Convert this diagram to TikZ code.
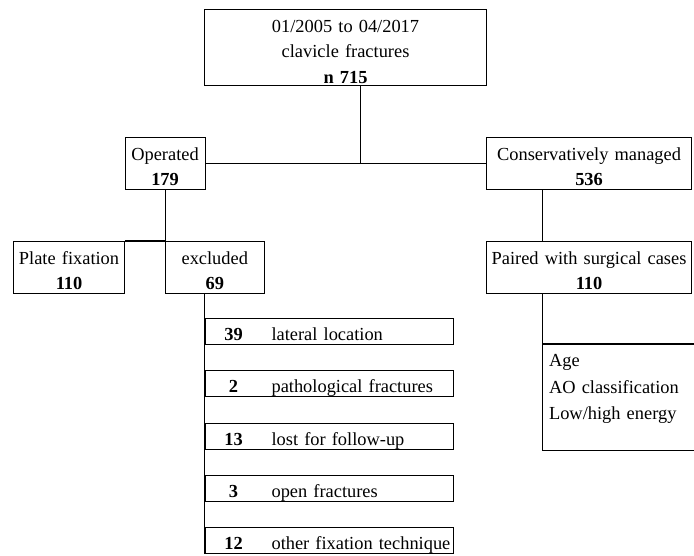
\documentclass[tikz,border=0pt]{standalone}
\usepackage{fontspec}
\setmainfont{Liberation Serif}
\newcommand{\topstrut}{\rule{0pt}{22.5pt}}
\newcommand{\botstrut}{\rule[-4pt]{0pt}{4pt}}
\begin{document}
\begin{tikzpicture}[x=1pt,y=-1pt,
  lw/.style={line width=1.1pt},
  box/.style={draw, lw, rectangle, inner sep=0pt, align=center, anchor=north west,
    font=\fontsize{18.4pt}{25.5pt}\selectfont},
  lbox/.style={box, align=left, text width=248.5pt}]
\useasboundingbox (0,0) rectangle (694,556);
\fill[white] (0,0) rectangle (694,556);

\node[box, text width=282pt] (top) at (204,9)
  {\topstrut 01/2005 to 04/2017\\clavicle fractures\\\textbf{n 715}\rule[-2.5pt]{0pt}{2.5pt}};
\node[box, text width=80pt] (op) at (124.5,137) {\topstrut Operated\\\textbf{179}\botstrut};
\node[box, text width=205pt] (cm) at (486,137) {\topstrut Conservatively managed\\\textbf{536}\botstrut};
\node[box, text width=111pt] (pf) at (13,241) {\topstrut Plate fixation\\\textbf{110}\botstrut};
\node[box, text width=99.5pt] (excl) at (164.5,241) {\topstrut excluded\\\textbf{69}\botstrut};
\node[box, text width=205pt] (pa) at (486,241) {\topstrut Paired with surgical cases\\\textbf{110}\botstrut};

\node[lbox] (l1) at (204.5,318) {\rule{0pt}{22pt}\makebox[57pt][c]{\textbf{39}}\hspace{9.5pt}lateral location\botstrut};
\node[lbox] (l2) at (204.5,370.25) {\rule{0pt}{22pt}\makebox[57pt][c]{\textbf{2}}\hspace{9.5pt}pathological fractures\botstrut};
\node[lbox] (l3) at (204.5,422.5) {\rule{0pt}{22pt}\makebox[57pt][c]{\textbf{13}}\hspace{9.5pt}lost for follow-up\botstrut};
\node[lbox] (l4) at (204.5,474.75) {\rule{0pt}{22pt}\makebox[57pt][c]{\textbf{3}}\hspace{9.5pt}open fractures\botstrut};
\node[lbox] (l5) at (204.5,527) {\rule{0pt}{22pt}\makebox[57pt][c]{\textbf{12}}\hspace{9.5pt}other fixation technique\botstrut};

\node[box, draw=none, align=left, text width=139.5pt, inner xsep=6pt,
  font=\fontsize{18.4pt}{26.5pt}\selectfont] (age) at (542.5,344)
  {\rule{0pt}{22pt}Age\\AO classification\\Low/high energy\rule[-30pt]{0pt}{30pt}};
\draw[lw] (age.north east) -- (age.north west) -- (age.south west) -- (age.south east);

\coordinate (j) at (360.5,163);
\coordinate (cx) at (542.5,0);
\draw[lw] (top.south -| j) -- (j);
\draw[lw] (op.east) -- (cm.west);
\draw[lw] (op.south) -- (op.south |- excl.north);
\draw[lw] (pf.north east) -- (excl.north west);
\draw[lw] (excl.south -| l1.west) -- (l5.south west);
\draw[lw] (cm.south -| cx) -- (pa.north -| cx);
\draw[lw] (pa.south -| cx) -- (age.north west);
\end{tikzpicture}
\end{document}
